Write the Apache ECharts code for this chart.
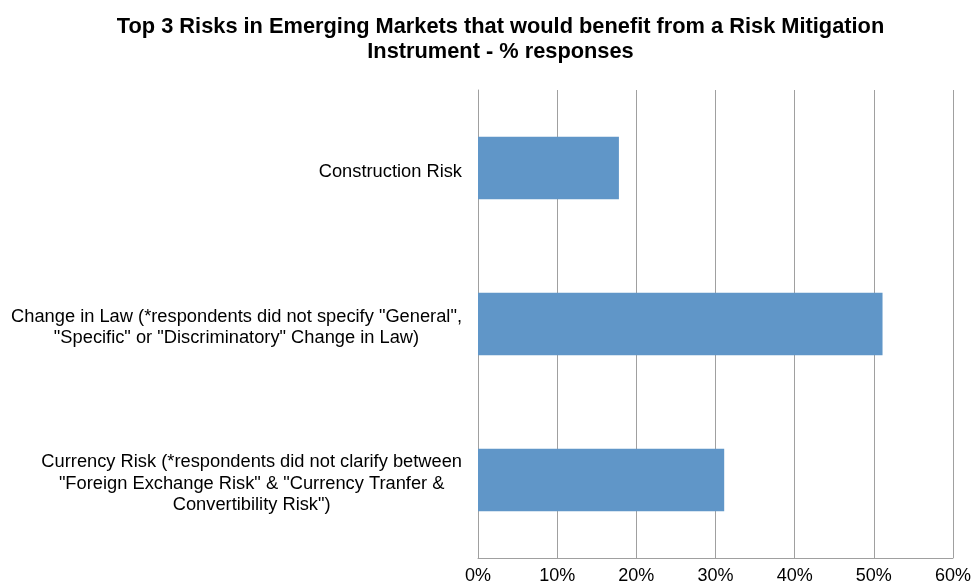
<!DOCTYPE html>
<html>
<head>
<meta charset="utf-8">
<script src="https://cdn.jsdelivr.net/npm/echarts@6/dist/echarts.min.js"></script>
<style>html,body{margin:0;padding:0;background:#fff;}#chart{width:974px;height:587px;}</style>
</head>
<body>
<div id="chart"></div>
<script>
const titleText = 'Top 3 Risks in Emerging Markets that would benefit from a Risk Mitigation\nInstrument - % responses';
const categories = [
  'Construction Risk',
  'Change in Law (*respondents did not specify "General",\n"Specific" or "Discriminatory" Change in Law)',
  'Currency Risk (*respondents did not clarify between\n"Foreign Exchange Risk" & "Currency Tranfer &\nConvertibility Risk")'
];
const values = [17.8, 51.1, 31.1];
const axisMin = 0, axisMax = 60, axisStep = 10;

const chart = echarts.init(document.getElementById('chart'));
chart.setOption({
  backgroundColor: '#ffffff',
  animation: false,
  title: {
    text: titleText,
    left: 500.5,
    top: 14.5,
    textAlign: 'center',
    padding: 0,
    textStyle: {
      fontFamily: 'Liberation Sans, Arial, sans-serif',
      fontWeight: 'bold',
      fontSize: 21.8,
      lineHeight: 25,
      color: '#000'
    }
  },
  grid: { left: 478, right: 19, top: 90, bottom: 29, containLabel: false },
  xAxis: {
    type: 'value',
    min: axisMin, max: axisMax, interval: axisStep,
    axisLine: { show: true, lineStyle: { color: '#a0a0a0', width: 1 } },
    axisTick: { show: false },
    splitLine: { show: true, lineStyle: { color: '#a0a0a0', width: 1 } },
    axisLabel: {
      formatter: '{value}%',
      margin: 9,
      fontFamily: 'Liberation Sans, Arial, sans-serif',
      fontSize: 18,
      color: '#000'
    }
  },
  yAxis: {
    type: 'category',
    inverse: true,
    data: categories,
    axisLine: { show: true, lineStyle: { color: '#a0a0a0', width: 1 } },
    axisTick: { show: false },
    axisLabel: {
      margin: 16,
      align: 'right',
      padding: [7, 0, 0, 0],
      formatter: function (v) {
        return v.split('\n').map(function (l) { return '{c|' + l + '}'; }).join('\n');
      },
      rich: {
        c: {
          align: 'center',
          fontFamily: 'Liberation Sans, Arial, sans-serif',
          fontSize: 18.3,
          lineHeight: 21.7,
          color: '#000'
        }
      }
    }
  },
  series: [{
    type: 'bar',
    data: values,
    barWidth: '40%',
    itemStyle: { color: '#6096C8' }
  }]
});
</script>
</body>
</html>
